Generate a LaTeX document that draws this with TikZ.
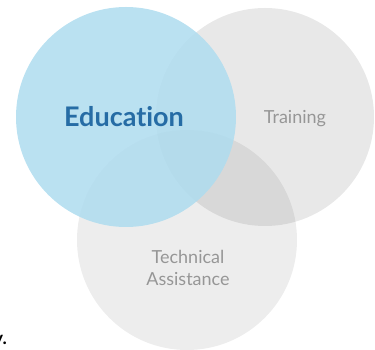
\documentclass[tikz,border=0pt]{standalone}
\usepackage{fontspec}
\setmainfont{Lato}[Ligatures=NoCommon]
\usepackage{xcolor}
\definecolor{edublue}{RGB}{174,220,239}
\definecolor{edutext}{RGB}{38,108,165}
\definecolor{greytext}{RGB}{150,150,150}

\begin{document}
\begin{tikzpicture}[x=1pt,y=1pt,
    greyset/.style={fill=black, draw=none},
    label/.style={text=greytext, font=\fontsize{18}{22}\selectfont, align=center}]
                \useasboundingbox (0,0) rectangle (375,350);
                \fill[greyset, fill opacity=0.09] (265,233) circle (109);
                \fill[greyset, fill opacity=0.07] (187,110) circle (110);
                \fill[edublue, fill opacity=0.85] (126,233) circle (110);
                \node[text=edutext, font=\bfseries\fontsize{27}{32}\selectfont] (edu) at (124,233) {Education};
                \node[label] (train) at (295,231) {Training};
                \node[label] (tech) at (188,82) {Technical\\Assistance};
                \node[anchor=base east, font=\bfseries\fontsize{18}{22}\selectfont, inner sep=0pt] (cut) at (7,5) {y.};
            \end{tikzpicture}
\end{document}
